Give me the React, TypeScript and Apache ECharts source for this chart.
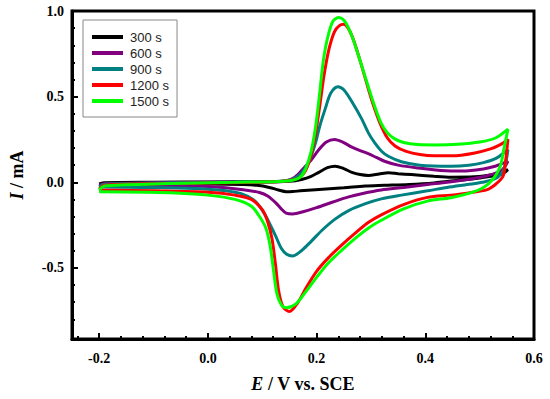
import React, { useEffect, useRef } from "react";
import * as echarts from "echarts";

const seriesNames = ["300 s", "600 s", "900 s", "1200 s", "1500 s"];
const seriesColors = ["#000000", "#800080", "#008080", "#ff0000", "#00ff00"];

const cv300: [number, number][] = [
  [-0.2, -0.01], [-0.19, -0.003], [-0.1, 0.0], [0.0, 0.002], [0.1, 0.003], [0.15, 0.006],
  [0.174, 0.018], [0.19, 0.035], [0.204, 0.058], [0.22, 0.085], [0.234, 0.094], [0.25, 0.08],
  [0.265, 0.058], [0.28, 0.045], [0.295, 0.04], [0.315, 0.048], [0.332, 0.055], [0.35, 0.05],
  [0.374, 0.045], [0.416, 0.035], [0.447, 0.03], [0.49, 0.032], [0.52, 0.042], [0.552, 0.074],
  [0.545, 0.055], [0.538, 0.045], [0.5, 0.025], [0.477, 0.016], [0.44, 0.005], [0.416, -0.004],
  [0.37, -0.013], [0.325, -0.018], [0.289, -0.022], [0.25, -0.032], [0.198, -0.043], [0.17, -0.05],
  [0.156, -0.054], [0.144, -0.055], [0.13, -0.045], [0.113, -0.03], [0.09, -0.018], [0.065, -0.013],
  [0.0, -0.01], [-0.1, -0.01], [-0.2, -0.01],
];

const cv600: [number, number][] = [
  [-0.2, -0.018], [-0.19, -0.008], [-0.1, -0.003], [0.0, 0.0], [0.1, 0.002], [0.143, 0.008],
  [0.16, 0.03], [0.174, 0.074], [0.19, 0.13], [0.204, 0.19], [0.218, 0.235], [0.233, 0.25],
  [0.248, 0.235], [0.265, 0.205], [0.28, 0.185], [0.295, 0.167], [0.31, 0.145], [0.325, 0.123],
  [0.35, 0.1], [0.386, 0.084], [0.447, 0.066], [0.48, 0.068], [0.507, 0.078], [0.53, 0.095],
  [0.552, 0.123],
  [0.545, 0.085], [0.538, 0.064], [0.51, 0.035], [0.477, 0.016], [0.44, 0.0], [0.404, -0.013],
  [0.36, -0.03], [0.319, -0.045], [0.285, -0.065], [0.259, -0.085], [0.23, -0.115], [0.2, -0.148],
  [0.175, -0.172], [0.156, -0.185], [0.144, -0.18], [0.135, -0.155], [0.125, -0.12], [0.11, -0.08],
  [0.095, -0.06], [0.065, -0.043], [0.0, -0.025], [-0.057, -0.02], [-0.2, -0.018],
];

const cv900: [number, number][] = [
  [-0.2, -0.028], [-0.19, -0.012], [-0.1, -0.005], [0.0, -0.002], [0.1, 0.003], [0.14, 0.008],
  [0.156, 0.018], [0.166, 0.035], [0.174, 0.06], [0.186, 0.12], [0.198, 0.23], [0.206, 0.33],
  [0.216, 0.43], [0.226, 0.52], [0.239, 0.558], [0.25, 0.54], [0.265, 0.47], [0.283, 0.37],
  [0.295, 0.29], [0.307, 0.23], [0.32, 0.18], [0.332, 0.152], [0.356, 0.12], [0.39, 0.1],
  [0.447, 0.094], [0.48, 0.1], [0.507, 0.115], [0.53, 0.14], [0.552, 0.19],
  [0.545, 0.08], [0.532, 0.027], [0.505, 0.0], [0.477, -0.013], [0.44, -0.03], [0.404, -0.05],
  [0.356, -0.075], [0.319, -0.097], [0.29, -0.125], [0.259, -0.165], [0.234, -0.215], [0.21, -0.28],
  [0.19, -0.345], [0.172, -0.4], [0.156, -0.43], [0.145, -0.42], [0.135, -0.385], [0.125, -0.316],
  [0.115, -0.25], [0.107, -0.2], [0.095, -0.14], [0.083, -0.1], [0.06, -0.065],
  [0.034, -0.05], [0.0, -0.04], [-0.057, -0.033], [-0.12, -0.03], [-0.2, -0.028],
];

const cv1200: [number, number][] = [
  [-0.2, -0.04], [-0.19, -0.018], [-0.1, -0.008], [0.0, -0.004], [0.08, 0.0], [0.13, 0.004],
  [0.155, 0.013], [0.17, 0.03], [0.18, 0.07], [0.19, 0.16], [0.198, 0.28], [0.206, 0.45],
  [0.214, 0.63], [0.223, 0.78], [0.233, 0.88], [0.242, 0.915], [0.25, 0.922], [0.258, 0.9],
  [0.268, 0.83], [0.28, 0.71], [0.292, 0.58], [0.304, 0.455], [0.316, 0.35], [0.33, 0.26],
  [0.345, 0.21], [0.365, 0.18], [0.39, 0.162], [0.416, 0.155], [0.45, 0.155], [0.489, 0.17],
  [0.52, 0.195], [0.538, 0.22], [0.552, 0.25],
  [0.548, 0.13], [0.543, 0.035], [0.53, -0.01], [0.514, -0.043], [0.48, -0.062], [0.447, -0.075],
  [0.404, -0.088], [0.36, -0.13], [0.319, -0.19], [0.295, -0.235], [0.27, -0.3], [0.245, -0.37],
  [0.222, -0.44], [0.2, -0.52], [0.18, -0.62], [0.165, -0.705], [0.15, -0.755], [0.138, -0.725],
  [0.13, -0.63], [0.124, -0.47], [0.118, -0.33], [0.11, -0.23], [0.1, -0.16], [0.08, -0.1],
  [0.05, -0.075], [0.0, -0.058], [-0.1, -0.05], [-0.2, -0.045],
];

const cv1500: [number, number][] = [
  [-0.2, -0.045], [-0.19, -0.022], [-0.15, -0.015], [-0.1, -0.01], [-0.04, -0.005], [0.05, 0.0],
  [0.13, 0.005], [0.155, 0.012], [0.17, 0.03], [0.18, 0.08], [0.19, 0.18], [0.198, 0.32],
  [0.205, 0.5], [0.212, 0.7], [0.22, 0.84], [0.23, 0.94], [0.241, 0.962], [0.252, 0.94],
  [0.265, 0.854], [0.277, 0.74], [0.289, 0.62], [0.304, 0.47], [0.318, 0.35], [0.33, 0.29],
  [0.343, 0.255], [0.36, 0.232], [0.386, 0.22], [0.42, 0.218], [0.46, 0.222], [0.5, 0.235],
  [0.53, 0.26], [0.552, 0.31],
  [0.545, 0.2], [0.538, 0.094], [0.525, 0.02], [0.507, -0.03], [0.48, -0.065], [0.447, -0.09],
  [0.404, -0.11], [0.36, -0.155], [0.319, -0.222], [0.295, -0.268], [0.27, -0.33], [0.245, -0.4],
  [0.222, -0.47], [0.2, -0.555], [0.18, -0.64], [0.162, -0.71], [0.144, -0.733], [0.135, -0.715],
  [0.127, -0.65], [0.121, -0.52], [0.115, -0.38], [0.107, -0.27], [0.095, -0.2], [0.08, -0.14],
  [0.05, -0.1], [0.0, -0.075], [-0.06, -0.062], [-0.117, -0.058], [-0.2, -0.055],
];

const allSeries = [cv300, cv600, cv900, cv1200, cv1500];

const xMajorTicks = [-0.2, 0.0, 0.2, 0.4, 0.6];
const xMinorTicks = [-0.24, -0.16, -0.12, -0.08, -0.04, 0.04, 0.08, 0.12, 0.16, 0.24, 0.28, 0.32, 0.36, 0.44, 0.48, 0.52, 0.56];
const yMajorTicks = [-0.5, 0.0, 0.5, 1.0];
const yMinorTicks = [-0.8, -0.7, -0.6, -0.4, -0.3, -0.2, -0.1, 0.1, 0.2, 0.3, 0.4, 0.6, 0.7, 0.8, 0.9];

const SERIF = "'Liberation Serif', 'Times New Roman', serif";
const SANS = "'Liberation Sans', Arial, sans-serif";

export default function App() {
  const ref = useRef<HTMLDivElement>(null);
  useEffect(() => {
    if (!ref.current) return;
    const chart = echarts.init(ref.current, null, { renderer: "svg" });
    const labelStyle = { fontFamily: SERIF, fontWeight: "bold" as const, fontSize: 14, color: "#000" };
    const nameRich = {
      i: { fontFamily: SERIF, fontWeight: "bold", fontStyle: "italic", fontSize: 18, color: "#000" },
      n: { fontFamily: SERIF, fontWeight: "bold", fontSize: 18, color: "#000" },
    };
    const xMin = -0.25, xMax = 0.6, yMin = -0.915, yMax = 1.0;
    chart.setOption({
      animation: false,
      backgroundColor: "#ffffff",
      grid: { left: 68, right: 16, top: 11, bottom: 60, show: true, borderColor: "#000", borderWidth: 3, backgroundColor: "transparent" },
      legend: {
        orient: "vertical",
        left: 83,
        top: 20,
        data: seriesNames,
        icon: "rect",
        itemWidth: 31,
        itemHeight: 4,
        itemGap: 2,
        padding: [10, 8, 9, 9],
        borderColor: "#888",
        borderWidth: 1,
        backgroundColor: "#fff",
        textStyle: { fontFamily: SANS, fontSize: 13, color: "#222", lineHeight: 14, padding: [0, 0, 0, 2] },
      },
      xAxis: [
        {
          type: "value", min: xMin, max: xMax, position: "bottom",
          axisLine: { show: true, onZero: false, lineStyle: { color: "#000", width: 3 } },
          axisTick: { show: true, inside: true, length: 6, lineStyle: { color: "#000", width: 2 }, customValues: xMajorTicks },
          axisLabel: { ...labelStyle, margin: 12, customValues: xMajorTicks, formatter: (v: number) => v.toFixed(1) },
          splitLine: { show: false },
          name: "{i|E}{n| / V vs. SCE}",
          nameLocation: "middle",
          nameGap: 36,
          nameTextStyle: { rich: nameRich },
        },
        {
          type: "value", min: xMin, max: xMax, position: "bottom",
          axisLine: { show: false, onZero: false },
          axisTick: { show: true, inside: true, length: 3, lineStyle: { color: "#000", width: 2 }, customValues: xMinorTicks },
          axisLabel: { show: false },
          splitLine: { show: false },
        },
      ],
      yAxis: [
        {
          type: "value", min: yMin, max: yMax, position: "left",
          axisLine: { show: true, onZero: false, lineStyle: { color: "#000", width: 3 } },
          axisTick: { show: true, inside: true, length: 6, lineStyle: { color: "#000", width: 2 }, customValues: yMajorTicks },
          axisLabel: { ...labelStyle, margin: 8, customValues: yMajorTicks, formatter: (v: number) => v.toFixed(1) },
          splitLine: { show: false },
          name: "{i|I}{n| / mA}",
          nameLocation: "middle",
          nameRotate: 90,
          nameGap: 46,
          nameTextStyle: { rich: nameRich },
        },
        {
          type: "value", min: yMin, max: yMax, position: "left",
          axisLine: { show: false, onZero: false },
          axisTick: { show: true, inside: true, length: 3, lineStyle: { color: "#000", width: 2 }, customValues: yMinorTicks },
          axisLabel: { show: false },
          splitLine: { show: false },
        },
      ],
      series: allSeries.map((d, i) => ({
        name: seriesNames[i],
        type: "line",
        xAxisIndex: 0,
        yAxisIndex: 0,
        data: d,
        showSymbol: false,
        symbol: "none",
        smooth: 0.3,
        lineStyle: { color: seriesColors[i], width: 3 },
        itemStyle: { color: seriesColors[i] },
      })),
    });
    return () => chart.dispose();
  }, []);
  return <div ref={ref} style={{ width: 550, height: 399, position: "absolute", left: 0, top: 0 }} />;
}
